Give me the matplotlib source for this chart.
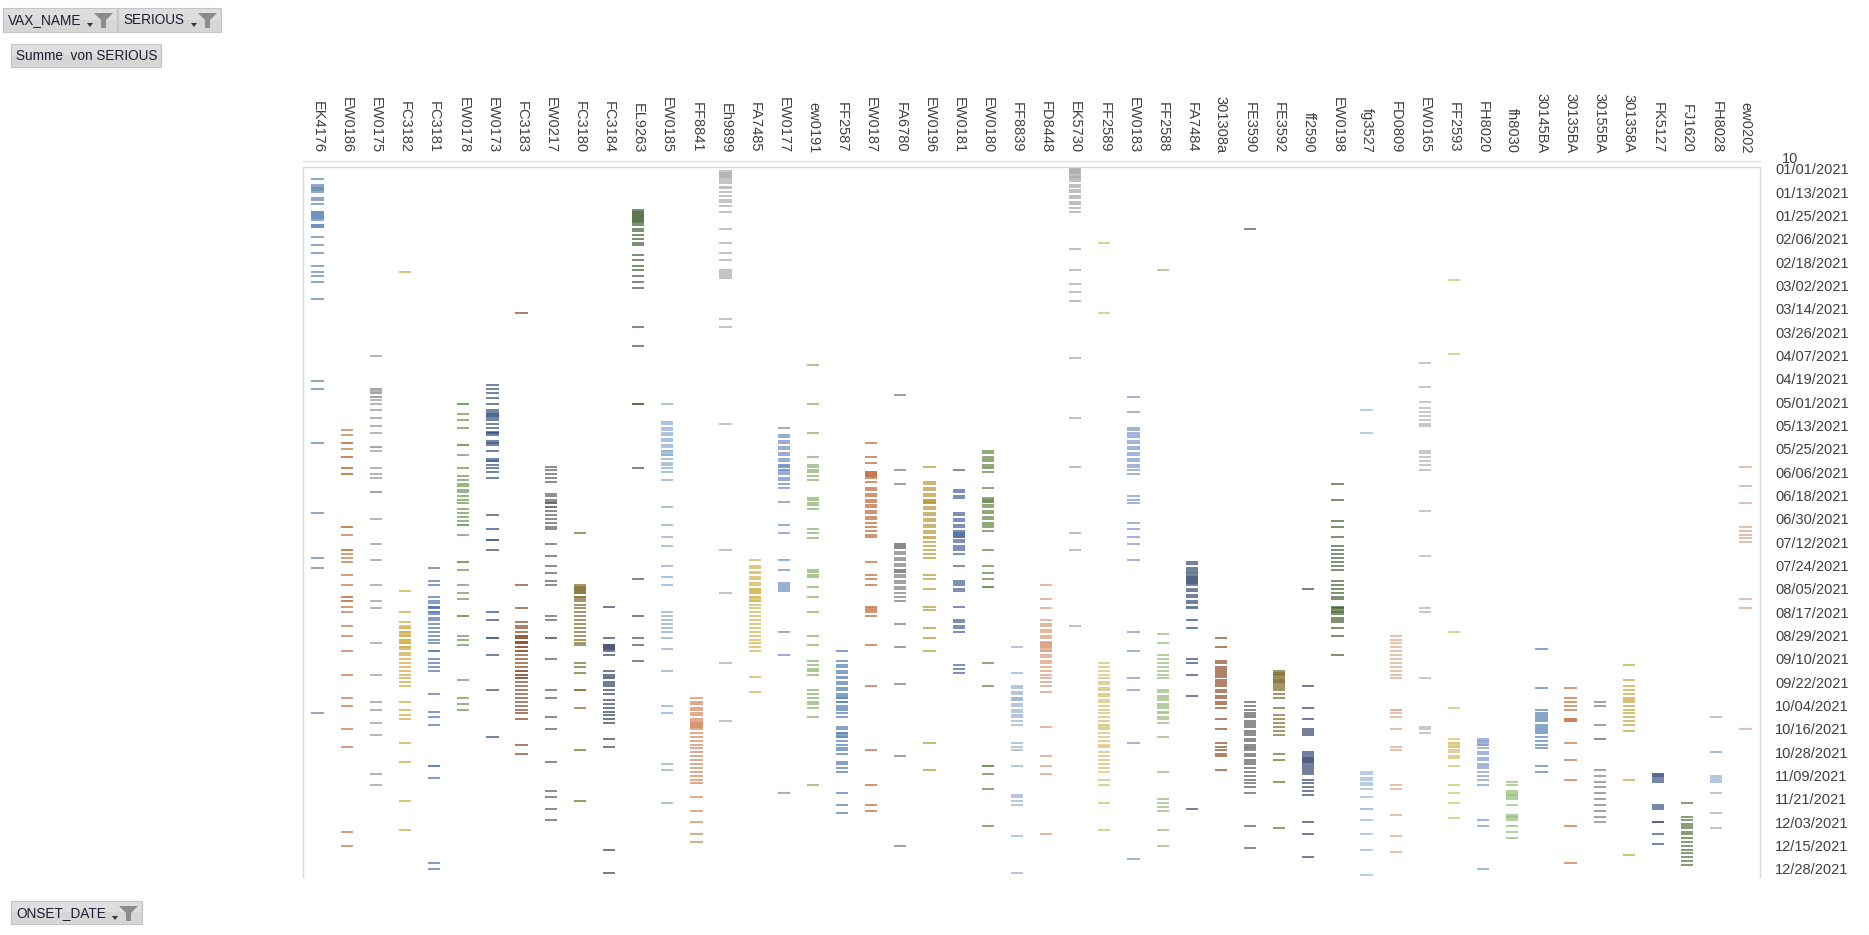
"""Pivot chart of serious reports per vaccine lot and onset date."""

import matplotlib

matplotlib.use("Agg")
import matplotlib.pyplot as plt
import numpy as np
from matplotlib.colors import to_rgb
from matplotlib.patches import Polygon, Rectangle

# ---------------------------------------------------------------------------
# Data: onset day index (0 = 01/01/2021) for each lot; a repeated day means
# more than one serious report on that date.
# ---------------------------------------------------------------------------
lot_EK4176 = [5, 8, 9, 10, 10, 11, 11, 12, 15, 16, 18, 22, 22, 23, 23, 24, 24, 25, 25, 26,
              29, 29, 30, 30, 35, 39, 43, 50, 53, 55, 58, 67, 109, 113, 141, 177, 200, 205, 280]
lot_EW0186 = [134, 137, 141, 141, 144, 148, 148, 154, 154, 157, 157, 184, 184, 188, 196, 196,
              198, 200, 202, 209, 214, 220, 220, 222, 222, 225, 228, 235, 240, 248, 260, 272,
              276, 288, 297, 341, 348]
lot_EW0175 = [96, 113, 113, 114, 115, 115, 117, 117, 119, 121, 124, 128, 132, 136, 143, 143,
              145, 154, 157, 159, 166, 166, 180, 193, 201, 214, 222, 226, 244, 260, 274, 278,
              285, 291, 311, 317]
lot_FC3182 = [53, 217, 228, 233, 235, 236, 236, 238, 238, 239, 240, 240, 242, 242, 243, 244,
              244, 246, 246, 247, 249, 250, 252, 254, 256, 258, 260, 262, 264, 266, 274, 278,
              281, 283, 295, 305, 325, 340]
lot_FC3181 = [205, 212, 214, 220, 222, 223, 225, 225, 226, 226, 228, 228, 229, 231, 232, 234,
              236, 238, 240, 242, 244, 248, 248, 252, 254, 256, 258, 270, 279, 282, 286, 307,
              307, 313, 357, 360]
lot_EW0178 = [121, 121, 126, 129, 133, 142, 142, 147, 154, 158, 160, 162, 163, 165, 166, 168,
              170, 172, 175, 177, 179, 181, 183, 183, 188, 202, 202, 206, 214, 218, 221, 230,
              230, 240, 242, 245, 263, 272, 275, 278]
lot_EW0173 = [111, 113, 115, 118, 121, 124, 125, 126, 126, 127, 127, 128, 129, 131, 133, 135,
              136, 136, 137, 140, 141, 141, 142, 145, 149, 150, 150, 152, 154, 156, 159, 178,
              185, 191, 191, 196, 228, 232, 241, 241, 250, 268, 292]
lot_FC3183 = [74, 214, 226, 233, 235, 236, 238, 240, 240, 241, 241, 243, 243, 244, 244, 246,
              246, 248, 248, 250, 252, 254, 256, 258, 258, 260, 260, 262, 262, 264, 266, 268,
              270, 272, 274, 276, 278, 280, 283, 296, 301]
lot_EW0217 = [153, 155, 157, 159, 161, 167, 168, 170, 171, 172, 172, 174, 174, 176, 178, 180,
              182, 184, 185, 193, 199, 204, 208, 212, 214, 230, 232, 241, 241, 252, 268, 272,
              282, 288, 305, 320, 323, 329, 335]
lot_FC3180 = [187, 214, 215, 215, 216, 216, 217, 217, 218, 218, 220, 220, 221, 222, 224, 226,
              228, 230, 232, 234, 236, 238, 240, 242, 244, 245, 254, 256, 259, 268, 268, 277,
              299, 325]
lot_FC3184 = [225, 241, 245, 245, 246, 246, 247, 247, 248, 250, 258, 260, 261, 262, 264, 265,
              266, 268, 270, 273, 275, 277, 279, 281, 283, 285, 293, 297, 350, 362]
lot_EL9263 = [21, 22, 22, 23, 23, 24, 24, 25, 25, 26, 26, 27, 27, 28, 29, 31, 32, 34, 36, 38,
              39, 44, 47, 50, 52, 55, 58, 61, 81, 91, 121, 121, 154, 211, 230, 241, 245, 253]
lot_EW0185 = [121, 130, 131, 133, 134, 136, 137, 139, 140, 142, 143, 145, 145, 146, 147, 147,
              149, 151, 152, 154, 156, 160, 174, 183, 189, 194, 204, 210, 214, 228, 230, 232,
              234, 236, 238, 241, 247, 258, 276, 280, 306, 309, 326]
lot_FF8841 = [272, 274, 275, 277, 278, 280, 281, 283, 284, 285, 285, 286, 286, 287, 287, 288,
              290, 292, 294, 296, 298, 300, 302, 304, 306, 308, 310, 312, 314, 316, 323, 330,
              336, 342, 346]
lot_Eh9899 = [1, 2, 2, 3, 3, 4, 4, 5, 6, 7, 9, 10, 12, 14, 16, 17, 19, 22, 31, 38, 43, 47, 52,
              53, 54, 55, 56, 77, 81, 131, 196, 218, 254, 284]
lot_FA7485 = [201, 204, 205, 207, 208, 210, 211, 213, 214, 216, 216, 217, 217, 218, 218, 220,
              220, 221, 222, 222, 224, 226, 228, 230, 232, 234, 236, 238, 240, 242, 244, 246,
              248, 261, 269]
lot_EW0177 = [133, 137, 138, 140, 141, 143, 144, 146, 147, 149, 150, 152, 152, 153, 153, 155,
              155, 156, 157, 159, 160, 162, 164, 171, 183, 187, 201, 206, 213, 214, 215, 216,
              217, 238, 250, 321]
lot_ew0191 = [101, 121, 136, 148, 152, 153, 155, 156, 158, 160, 169, 170, 172, 173, 175, 185,
              187, 190, 206, 207, 209, 210, 215, 220, 228, 240, 245, 253, 255, 257, 258, 260,
              268, 270, 272, 274, 275, 277, 282, 317]
lot_FF2587 = [248, 253, 255, 256, 258, 259, 261, 262, 264, 265, 267, 268, 270, 271, 272, 272,
              274, 274, 276, 277, 278, 280, 282, 287, 288, 290, 290, 291, 292, 292, 294, 296,
              298, 299, 301, 305, 306, 308, 310, 321, 327, 331]
lot_EW0187 = [141, 148, 151, 156, 156, 157, 157, 158, 158, 159, 161, 164, 165, 167, 168, 170,
              171, 173, 174, 176, 177, 179, 180, 182, 184, 186, 188, 189, 202, 209, 211, 214,
              225, 226, 227, 228, 230, 245, 266, 299, 317, 327, 330]
lot_FA6780 = [116, 155, 162, 193, 193, 194, 194, 195, 195, 197, 198, 200, 201, 203, 204, 206,
              206, 207, 207, 209, 210, 212, 213, 215, 216, 218, 220, 222, 234, 246, 265, 302,
              348]
lot_EW0196 = [153, 161, 162, 164, 165, 167, 168, 170, 170, 171, 171, 172, 172, 174, 175, 177,
              178, 180, 181, 183, 184, 186, 187, 189, 190, 192, 194, 196, 198, 200, 209, 211,
              216, 225, 227, 236, 241, 248, 295, 309]
lot_EW0181 = [155, 165, 166, 168, 169, 177, 178, 180, 181, 183, 184, 186, 187, 187, 188, 188,
              189, 189, 191, 192, 194, 195, 196, 198, 204, 212, 213, 214, 216, 217, 225, 232,
              233, 235, 236, 238, 255, 257, 259]
lot_EW0180 = [145, 146, 148, 149, 150, 152, 153, 154, 156, 164, 169, 170, 170, 171, 171, 173,
              174, 176, 177, 179, 180, 182, 183, 184, 186, 196, 204, 208, 211, 215, 215, 254,
              266, 307, 307, 311, 319, 338]
lot_FF8839 = [246, 259, 266, 267, 269, 270, 272, 272, 273, 273, 275, 276, 278, 279, 281, 282,
              284, 286, 295, 297, 299, 307, 322, 323, 325, 327, 343, 362]
lot_FD8448 = [214, 221, 226, 232, 234, 235, 237, 238, 240, 241, 243, 244, 244, 245, 245, 246,
              246, 247, 248, 248, 250, 251, 253, 254, 256, 258, 260, 262, 264, 266, 269, 287,
              302, 307, 311, 342]
lot_EK5730 = [0, 0, 1, 1, 2, 2, 3, 4, 4, 5, 6, 8, 9, 11, 12, 14, 15, 17, 18, 20, 22, 41, 52,
              59, 63, 68, 97, 128, 153, 187, 196, 235]
lot_FF2589 = [38, 74, 254, 256, 258, 260, 262, 264, 265, 267, 268, 270, 271, 273, 274, 276,
              278, 280, 282, 284, 286, 287, 288, 290, 292, 294, 296, 297, 300, 302, 304, 306,
              308, 310, 314, 317, 326, 340]
lot_EW0183 = [117, 125, 133, 134, 136, 137, 138, 140, 141, 143, 144, 146, 147, 149, 150, 152,
              153, 155, 157, 168, 170, 172, 182, 185, 189, 193, 201, 238, 248, 262, 268, 295,
              355]
lot_FF2588 = [52, 239, 244, 250, 252, 254, 256, 258, 260, 262, 268, 269, 271, 272, 273, 275,
              276, 277, 279, 280, 282, 283, 285, 292, 310, 324, 326, 328, 330, 340, 348]
lot_FA7484 = [202, 203, 205, 206, 207, 208, 209, 210, 210, 211, 211, 212, 212, 213, 213, 214,
              216, 217, 219, 220, 222, 223, 225, 226, 232, 236, 252, 254, 260, 271, 329]
lot_301308a = [241, 246, 253, 254, 256, 257, 258, 259, 260, 261, 263, 264, 265, 266, 268, 269,
               271, 272, 274, 275, 277, 283, 288, 295, 297, 299, 301, 302, 309]
lot_FE3590 = [31, 274, 276, 278, 280, 281, 282, 284, 285, 286, 287, 289, 290, 291, 293, 294,
              296, 297, 298, 299, 301, 302, 304, 305, 306, 308, 310, 312, 314, 316, 318, 321,
              338, 349]
lot_FE3592 = [258, 259, 259, 260, 260, 261, 262, 263, 263, 264, 264, 265, 266, 267, 268, 270,
              272, 277, 281, 283, 285, 287, 289, 291, 301, 304, 315, 339]
lot_ff2590 = [216, 266, 277, 283, 288, 289, 290, 291, 300, 301, 302, 303, 303, 304, 304, 305,
              305, 306, 307, 308, 309, 310, 311, 314, 316, 318, 320, 322, 336, 342, 354]
lot_EW0198 = [162, 170, 181, 184, 189, 194, 196, 198, 200, 202, 204, 206, 212, 214, 216, 218,
              220, 221, 225, 226, 226, 227, 228, 228, 229, 231, 232, 233, 236, 240, 250]
lot_fg3527 = [124, 136, 310, 311, 313, 314, 316, 317, 319, 323, 329, 329, 335, 342, 350, 363]
lot_FD0809 = [240, 242, 244, 246, 248, 250, 252, 254, 256, 258, 260, 262, 278, 278, 280, 282,
              288, 297, 299, 317, 319, 332, 343, 351]
lot_EW0165 = [100, 112, 120, 123, 125, 127, 129, 131, 132, 145, 146, 148, 150, 152, 155, 176,
              199, 226, 228, 262, 287, 288, 290]
lot_FF2593 = [57, 95, 238, 277, 293, 295, 295, 296, 297, 297, 299, 300, 302, 303, 307, 317,
              321, 326, 334]
lot_FH8020 = [293, 294, 294, 295, 296, 296, 298, 300, 301, 303, 304, 306, 307, 308, 310, 312,
              314, 317, 335, 338, 360]
lot_fh8030 = [315, 317, 320, 321, 322, 322, 323, 324, 327, 332, 333, 333, 334, 335, 338, 341,
              344]
lot_30145BA = [247, 267, 278, 280, 281, 282, 283, 284, 286, 287, 288, 289, 290, 292, 294, 296,
               298, 307, 310]
lot_30135BA = [267, 272, 274, 276, 278, 283, 283, 284, 284, 295, 304, 314, 338, 357]
lot_30155BA = [274, 276, 286, 293, 293, 309, 312, 315, 318, 321, 324, 327, 330, 333, 336]
lot_301358A = [255, 263, 266, 268, 270, 272, 273, 274, 276, 278, 280, 282, 284, 286, 289, 314,
               353]
lot_FK5127 = [311, 311, 312, 312, 313, 314, 315, 327, 328, 329, 336, 336, 342, 347]
lot_FJ1620 = [326, 333, 335, 337, 338, 339, 341, 342, 344, 346, 348, 350, 352, 354, 356, 358]
lot_FH8028 = [282, 300, 300, 312, 313, 314, 315, 321, 331, 339]
lot_ew0202 = [153, 163, 172, 184, 186, 188, 190, 192, 221, 226, 288]

LOT_NAMES = [
    "EK4176", "EW0186", "EW0175", "FC3182", "FC3181", "EW0178", "EW0173", "FC3183",
    "EW0217", "FC3180", "FC3184", "EL9263", "EW0185", "FF8841", "Eh9899", "FA7485",
    "EW0177", "ew0191", "FF2587", "EW0187", "FA6780", "EW0196", "EW0181", "EW0180",
    "FF8839", "FD8448", "EK5730", "FF2589", "EW0183", "FF2588", "FA7484", "301308a",
    "FE3590", "FE3592", "ff2590", "EW0198", "fg3527", "FD0809", "EW0165", "FF2593",
    "FH8020", "fh8030", "30145BA", "30135BA", "30155BA", "301358A", "FK5127", "FJ1620",
    "FH8028", "ew0202",
]
LOT_DAYS = [
    lot_EK4176, lot_EW0186, lot_EW0175, lot_FC3182, lot_FC3181, lot_EW0178, lot_EW0173,
    lot_FC3183, lot_EW0217, lot_FC3180, lot_FC3184, lot_EL9263, lot_EW0185, lot_FF8841,
    lot_Eh9899, lot_FA7485, lot_EW0177, lot_ew0191, lot_FF2587, lot_EW0187, lot_FA6780,
    lot_EW0196, lot_EW0181, lot_EW0180, lot_FF8839, lot_FD8448, lot_EK5730, lot_FF2589,
    lot_EW0183, lot_FF2588, lot_FA7484, lot_301308a, lot_FE3590, lot_FE3592, lot_ff2590,
    lot_EW0198, lot_fg3527, lot_FD0809, lot_EW0165, lot_FF2593, lot_FH8020, lot_fh8030,
    lot_30145BA, lot_30135BA, lot_30155BA, lot_301358A, lot_FK5127, lot_FJ1620, lot_FH8028,
    lot_ew0202,
]

DATE_LABELS = [
    "01/01/2021", "01/13/2021", "01/25/2021", "02/06/2021", "02/18/2021", "03/02/2021",
    "03/14/2021", "03/26/2021", "04/07/2021", "04/19/2021", "05/01/2021", "05/13/2021",
    "05/25/2021", "06/06/2021", "06/18/2021", "06/30/2021", "07/12/2021", "07/24/2021",
    "08/05/2021", "08/17/2021", "08/29/2021", "09/10/2021", "09/22/2021", "10/04/2021",
    "10/16/2021", "10/28/2021", "11/09/2021", "11/21/2021", "12/03/2021", "12/15/2021",
    "12/28/2021",
]
DATE_STEP = 12

# Excel-like series colours, cycling through six hues with shade variants
SERIES_COLORS = [
    "#4a76a8", "#c0652d", "#8c8c8c", "#c9a22a", "#3e64a8", "#5a8a3a",
    "#1f3f6e", "#7a3510", "#4d4d4d", "#6e5a10", "#1d2f55", "#2f5020",
    "#7b9fcc", "#cc7a48", "#a0a0a0", "#cfab38", "#5b7ebe", "#78a855",
    "#3a6ea5", "#b5541e", "#6a6a6a", "#b08a1e", "#2f4f8f", "#4d7a2f",
    "#8aa6c8", "#d49068", "#9a9a9a", "#d2b454", "#6a88c0", "#88b26a",
    "#1f3a5f", "#80380f", "#4a4a4a", "#6b5a10", "#1f3360", "#33511f",
    "#8fb0d4", "#dc9c76", "#a8a8a8", "#d6b856", "#6f8cc4", "#86b466",
    "#3f72aa", "#c0602a", "#707070", "#bf9a28", "#283f7a", "#3f6428",
    "#8aa8cc", "#d49a78",
]

FIG_W, FIG_H, DPI = 1869, 935, 100
FONT = ["Liberation Sans", "DejaVu Sans"]
TEXT_COLOR = "#404040"
FRAME_COLOR = "#d9d9d9"

plt.rcParams["font.family"] = FONT


def shade(color: str, count: int) -> tuple:
    """Lighten a series colour for single reports, keep it full for many."""
    strength = {1: 0.72, 2: 0.9}.get(count, 1.0)
    rgb = np.array(to_rgb(color))
    return tuple(1 - (1 - rgb) * strength)


def draw_button(ax, x0, y0, w, h, label, dropdown=True):
    """Draw an Excel pivot field button in pixel coordinates."""
    ax.add_patch(Rectangle((x0, y0), w, h, facecolor="#d6d6d6", edgecolor="#c4c4c4", lw=0.8))
    ax.add_patch(Rectangle((x0 + 1, y0 + 1), w - 2, h * 0.45, facecolor="#dedede",
                           edgecolor="none"))
    ax.text(x0 + 5, y0 + h / 2 + 0.5, label, ha="left", va="center", fontsize=9.8,
            color="#1c1c2c")
    if dropdown:
        xr = x0 + w
        ax.add_patch(Polygon([(xr - 30, y0 + 15), (xr - 24, y0 + 15), (xr - 27, y0 + 19)],
                             closed=True, facecolor="#333333", edgecolor="none"))
        ax.add_patch(Polygon([(xr - 23, y0 + 5), (xr - 4, y0 + 5), (xr - 11, y0 + 12),
                              (xr - 11, y0 + 20), (xr - 16, y0 + 20), (xr - 16, y0 + 12)],
                             closed=True, facecolor="#8c8c8c", edgecolor="none"))


fig = plt.figure(figsize=(FIG_W / DPI, FIG_H / DPI), dpi=DPI)

# Pixel layout of the plot area
left_px, right_px = 303, 1760
y_first = 169.0
px_per_day = (869.0 - y_first) / 360.0
y_lo, y_hi = -1.0, 364.0
top_px = y_first + y_lo * px_per_day
bottom_px = y_first + y_hi * px_per_day

ax = fig.add_axes([left_px / FIG_W, 1 - bottom_px / FIG_H,
                   (right_px - left_px) / FIG_W, (bottom_px - top_px) / FIG_H])

for i, (days, color) in enumerate(zip(LOT_DAYS, SERIES_COLORS)):
    uniq, counts = np.unique(days, return_counts=True)
    cols = [shade(color, c) for c in counts]
    ax.hlines(uniq, i - 0.21, i + 0.21, colors=cols, linewidth=1.25)

ax.set_xlim(-0.5, len(LOT_NAMES) - 0.5)
ax.set_ylim(y_hi, y_lo)
ax.set_xticks([])
ax.yaxis.tick_right()
ax.set_yticks(np.arange(len(DATE_LABELS)) * DATE_STEP)
ax.set_yticklabels(DATE_LABELS)
ax.tick_params(axis="y", length=0, pad=11, labelsize=10.5, labelcolor=TEXT_COLOR)
for lbl in ax.get_yticklabels():
    lbl.set_horizontalalignment("left")
for side in ["left", "right", "top"]:
    ax.spines[side].set_color(FRAME_COLOR)
    ax.spines[side].set_linewidth(1.0)
ax.spines["bottom"].set_visible(False)

# Overlay in pixel coordinates for labels and field buttons
over = fig.add_axes([0, 0, 1, 1], zorder=-1)
over.set_xlim(0, FIG_W)
over.set_ylim(FIG_H, 0)
over.axis("off")

slot = (right_px - left_px) / len(LOT_NAMES)
for i, name in enumerate(LOT_NAMES):
    over.text(left_px + slot * (i + 0.5), 153, name, rotation=270, ha="center", va="bottom",
              fontsize=10.5, color=TEXT_COLOR)
over.plot([left_px, right_px], [161, 161], color="#e3e3e3", lw=1.0)
over.text(1782, 159, "10", ha="left", va="center", fontsize=10.5, color=TEXT_COLOR)

draw_button(over, 3, 8, 114, 24, "VAX_NAME")
draw_button(over, 118, 8, 103, 24, "SERIOUS")
draw_button(over, 11, 44, 150, 23, "Summe  von SERIOUS", dropdown=False)
draw_button(over, 11, 901, 131, 23, "ONSET_DATE")

fig.savefig("out.png", dpi=DPI)
